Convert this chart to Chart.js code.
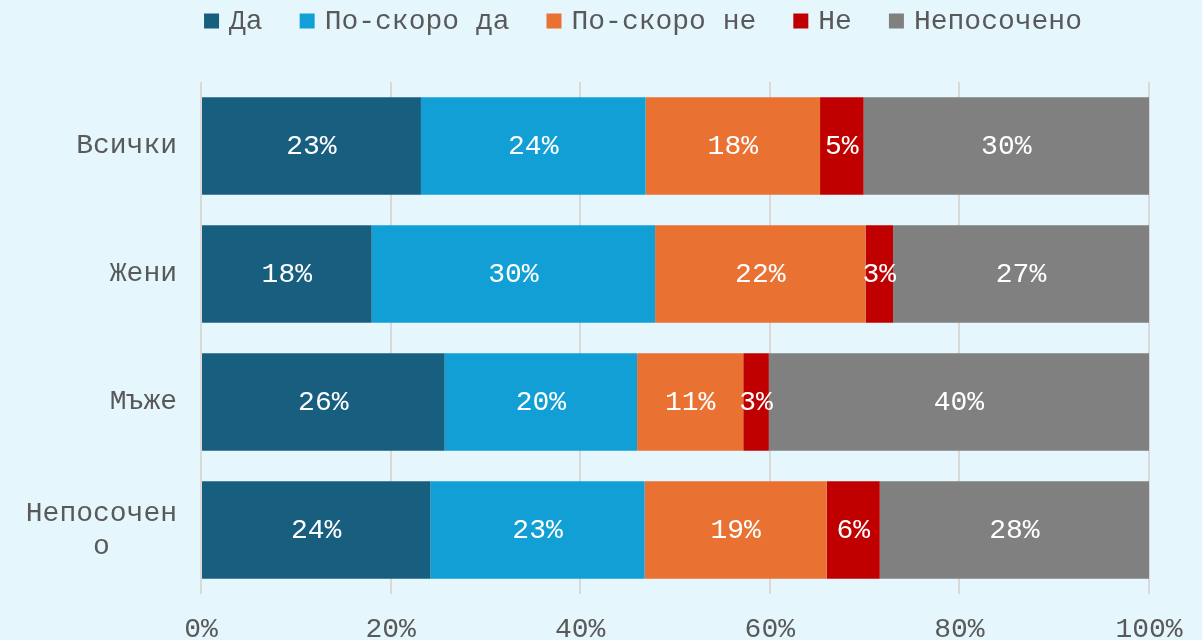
<!DOCTYPE html>
<html>
<head>
<meta charset="utf-8">
<script src="https://cdn.jsdelivr.net/npm/chart.js@4"></script>
<style>
  html, body { margin: 0; padding: 0; background: #E5F6FD; }
  #wrap { width: 1202px; height: 640px; }
</style>
</head>
<body>
<div id="wrap"><canvas id="chart" width="1202" height="640"></canvas></div>
<script>
// категории и серии (в %)
const categories = ['Всички', 'Жени', 'Мъже', ['Непосочен', 'о    ']];
const seriesNames = ['Да', 'По-скоро да', 'По-скоро не', 'Не', 'Непосочено'];
const da = [23.2, 18.0, 25.7, 24.2];
const poskoroDa = [23.7, 29.9, 20.3, 22.6];
const poskoroNe = [18.4, 22.2, 11.2, 19.2];
const ne = [4.6, 2.9, 2.7, 5.6];
const neposocheno = [30.1, 27.0, 40.1, 28.4];
const xTicks = [0, 20, 40, 60, 80, 100];

const colors = ['#175E7F', '#119FD6', '#E97132', '#C00000', '#808080'];
const allSeries = [da, poskoroDa, poskoroNe, ne, neposocheno];
const FONT = '"Liberation Mono", "Courier New", monospace';
const TEXT_GREY = '#595959';

// етикети в средата на всеки сегмент
const barLabels = {
  id: 'barLabels',
  afterDatasetsDraw(chart) {
    const ctx = chart.ctx;
    ctx.save();
    ctx.font = '28px ' + FONT;
    ctx.fillStyle = '#ffffff';
    ctx.textAlign = 'center';
    ctx.textBaseline = 'middle';
    chart.data.datasets.forEach((ds, i) => {
      chart.getDatasetMeta(i).data.forEach((bar, j) => {
        const cx = (bar.x + bar.base) / 2;
        ctx.fillText(Math.round(ds.data[j]) + '%', cx, bar.y + 1);
      });
    });
    ctx.restore();
  }
};

// легенда отгоре (по-тесни разстояния от вградената)
const topLegend = {
  id: 'topLegend',
  afterDraw(chart) {
    const ctx = chart.ctx;
    ctx.save();
    ctx.font = '28px ' + FONT;
    ctx.textBaseline = 'middle';
    ctx.textAlign = 'left';
    const box = 15, gapText = 10, gapItem = 37;
    const widths = chart.data.datasets.map(ds => ctx.measureText(ds.label).width);
    let total = 0;
    widths.forEach((w, i) => { total += box + gapText + w + (i < widths.length - 1 ? gapItem : 0); });
    let x = 643 - total / 2;
    const cy = 21;
    chart.data.datasets.forEach((ds, i) => {
      ctx.fillStyle = ds.backgroundColor;
      ctx.fillRect(x, cy - box / 2, box, box);
      ctx.fillStyle = TEXT_GREY;
      ctx.fillText(ds.label, x + box + gapText, cy + 1);
      x += box + gapText + widths[i] + gapItem;
    });
    ctx.restore();
  }
};

new Chart(document.getElementById('chart'), {
  type: 'bar',
  data: {
    labels: categories,
    datasets: seriesNames.map((name, i) => ({
      label: name,
      data: allSeries[i],
      backgroundColor: colors[i],
      borderWidth: 0,
      categoryPercentage: 0.76,
      barPercentage: 1.0
    }))
  },
  options: {
    indexAxis: 'y',
    responsive: false,
    animation: false,
    layout: { padding: { left: 0, right: 53, top: 82, bottom: 0 } },
    plugins: {
      legend: { display: false },
      tooltip: { enabled: false }
    },
    scales: {
      x: {
        stacked: true,
        min: 0,
        max: 100,
        afterBuildTicks(axis) { axis.ticks = xTicks.map(v => ({ value: v })); },
        afterFit(axis) { axis.height = 46; },
        ticks: {
          color: TEXT_GREY,
          font: { family: FONT, size: 28 },
          callback: v => v + '%',
          padding: 19
        },
        grid: { color: '#D9D9D9', lineWidth: 2, drawTicks: false },
        border: { display: false }
      },
      y: {
        stacked: true,
        afterFit(axis) { axis.width = 201; },
        ticks: {
          color: TEXT_GREY,
          font: { family: FONT, size: 28 },
          padding: 24
        },
        grid: { display: false, drawTicks: false },
        border: { display: false }
      }
    }
  },
  plugins: [barLabels, topLegend]
});
</script>
</body>
</html>
